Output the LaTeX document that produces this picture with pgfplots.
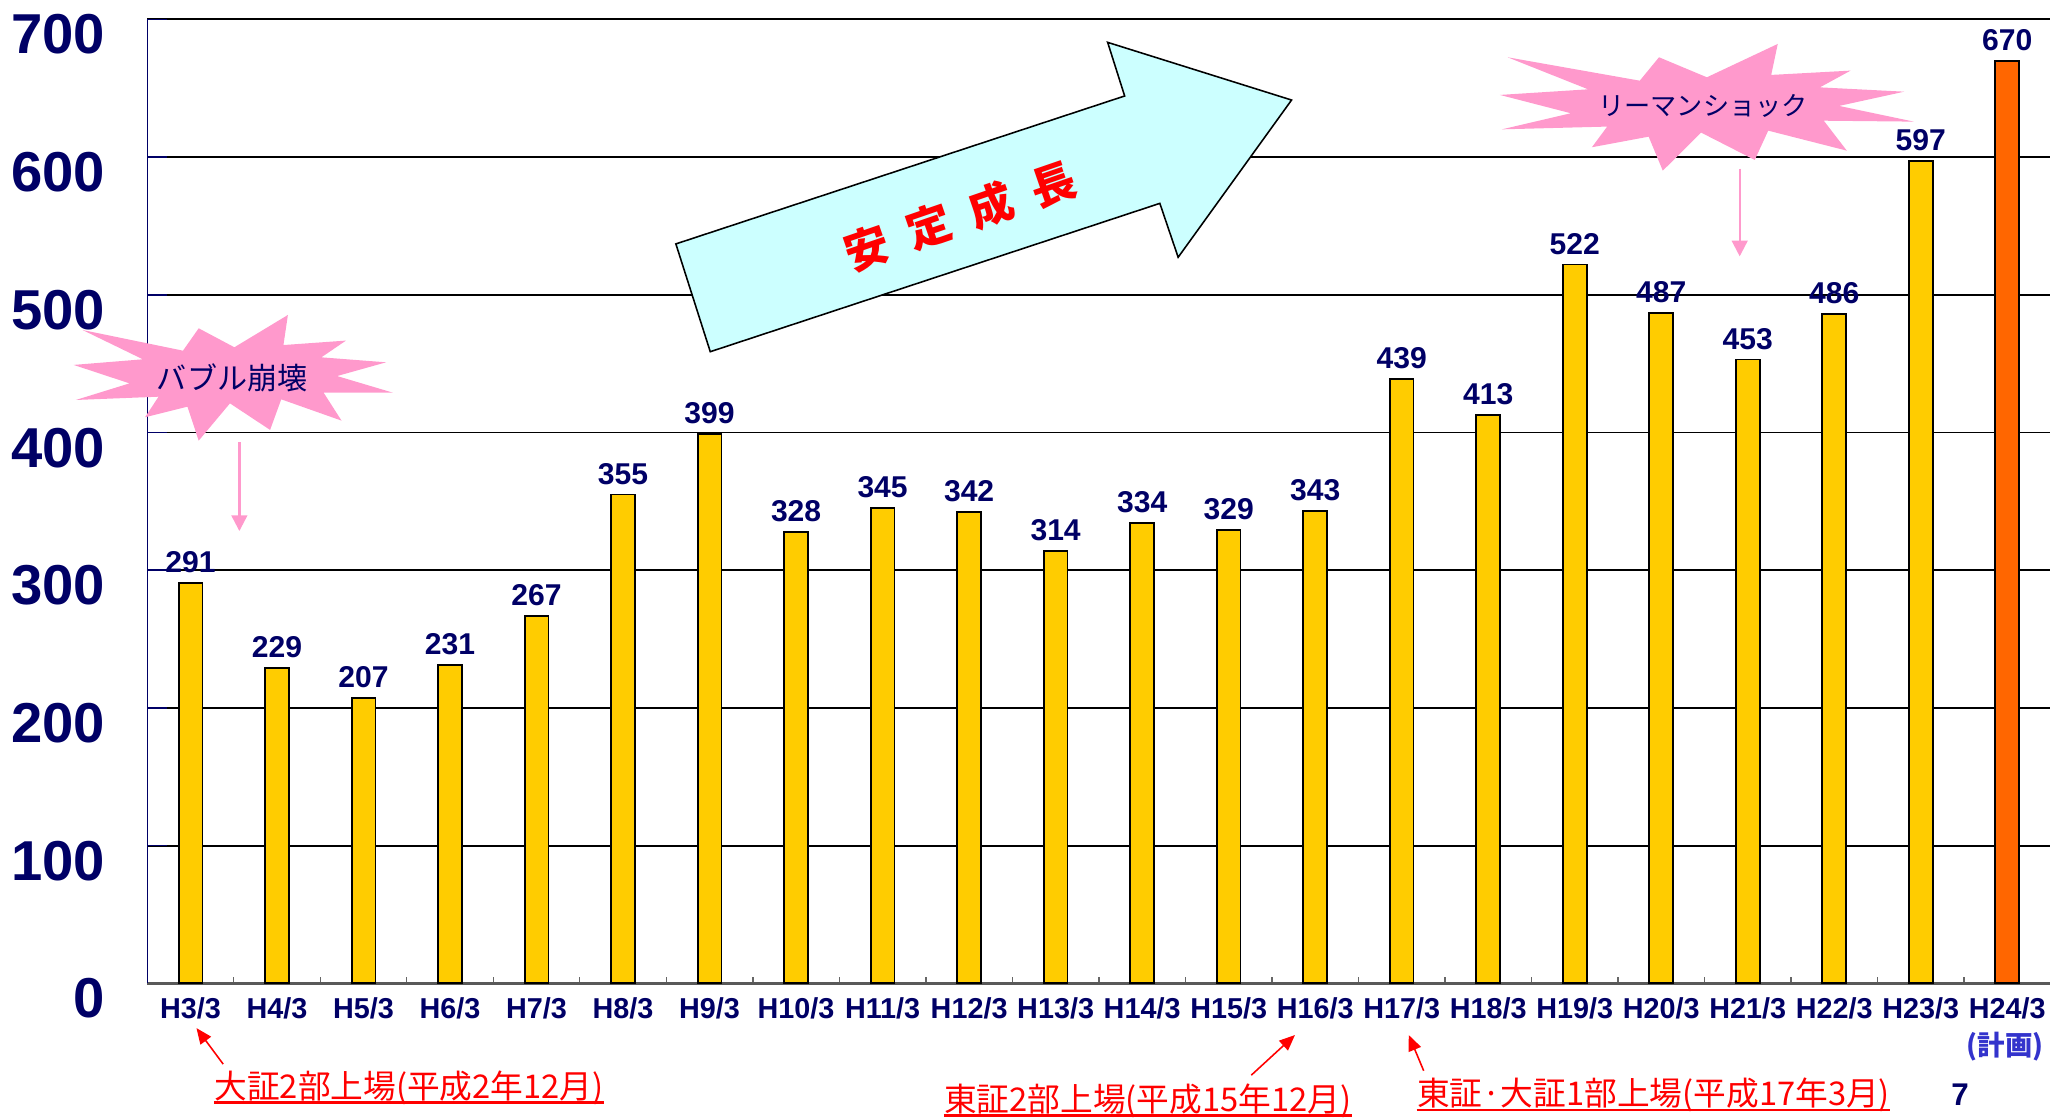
\documentclass[border=0pt]{standalone}
\usepackage{pgfplots}
\pgfplotsset{compat=1.18}
\usepackage{fontspec}
\setmainfont{Liberation Sans}
\newfontfamily\jp{Noto Sans CJK JP}
\usetikzlibrary{arrows.meta}
\definecolor{navy}{RGB}{0,0,102}
\definecolor{baryel}{RGB}{255,204,0}
\definecolor{barorg}{RGB}{255,102,0}
\definecolor{burst}{RGB}{255,153,204}
\definecolor{arrowfill}{RGB}{204,255,255}
\definecolor{plan}{RGB}{51,51,204}
\begin{document}
\begin{tikzpicture}
\useasboundingbox (0,0) rectangle (784pt,427pt);
\begin{axis}[
  at={(56.3pt,51.1pt)}, anchor=south west,
  scale only axis, width=727.5pt, height=368.5pt,
  xmin=-0.5, xmax=21.5, ymin=0, ymax=700,
  ybar, bar width=0.275, bar shift=0pt,
  axis x line*=bottom, axis y line*=left,
  x axis line style={-, draw=black!65, line width=1pt},
  y axis line style={-, draw=navy, line width=0.5pt},
  /pgf/number format/assume math mode=true,
  ytick={0,100,...,700},
  ytick align=inside, xtick align=inside,
  major tick length=7.5pt,
  major y tick style={draw=navy, line width=0.6pt},
  major x tick style={draw=none},
  minor xtick={0.5,1.5,...,20.5},
  minor tick length=2.5pt,
  minor x tick style={draw=black!60, line width=0.5pt},
  ymajorgrids, grid style={black, line width=0.75pt},
  xtick={0,1,...,21},
  xticklabels={H3/3,H4/3,H5/3,H6/3,H7/3,H8/3,H9/3,H10/3,H11/3,H12/3,H13/3,H14/3,H15/3,H16/3,H17/3,H18/3,H19/3,H20/3,H21/3,H22/3,H23/3,H24/3},
  xticklabel style={font=\bfseries\fontsize{11}{12}\selectfont, text=navy, anchor=base, inner sep=0pt, yshift=-13.3pt},
  yticklabel style={font=\bfseries\fontsize{21.5}{22}\selectfont, text=navy, anchor=base east, inner sep=0pt, xshift=-16pt, yshift=-13.2pt},
  nodes near coords,
  nodes near coords style={font=\bfseries\fontsize{11.5}{12}\selectfont, text=navy, anchor=south, inner sep=0pt, yshift=3.5pt},
]
\addplot[ybar, bar shift=0pt, fill=baryel, draw=black, line width=0.7pt] coordinates {
(0,291)(1,229)(2,207)(3,231)(4,267)(5,355)(6,399)(7,328)(8,345)(9,342)(10,314)
(11,334)(12,329)(13,343)(14,439)(15,413)(16,522)(17,487)(18,453)(19,486)(20,597)};
\addplot[ybar, bar shift=0pt, fill=barorg, draw=black, line width=0.7pt] coordinates {(21,670)};
\end{axis}
\begin{scope}[x=0.5pt,y=-0.5pt,yshift=427pt]
% big arrow
\draw[fill=arrowfill, line width=0.6pt, line join=miter] (516.7,186.5) -- (859.8,73.4) -- (846.8,32.4) -- (987.4,76.5) -- (900.7,196.7) -- (886.7,155.5) -- (543.0,268.9) -- cycle;
\node[rotate=19, text=red, font=\jp\bfseries\fontsize{17}{17}\selectfont] at (734,165) {安\hspace{8pt}定\hspace{8pt}成\hspace{8pt}長};
% burst 1
\fill[burst] (56.3,279) -- (109.2,274.7) -- (63.1,252.3) -- (139.9,268.1) -- (151.9,251) -- (179.2,265.5) -- (220.1,240.8) -- (216.7,263.8) -- (264.5,260.4) -- (245.7,273.2) -- (295.2,277) -- (257.7,287.5) -- (300.3,300.2) -- (247.4,300.2) -- (261.1,321.6) -- (215,305.3) -- (206.5,328.7) -- (175.8,308.4) -- (151.9,336.9) -- (143.3,310.9) -- (110.9,319) -- (121.2,303.3) -- (58,305.8) -- (99,293.1) -- cycle;
\node[text=navy, font=\jp\fontsize{11.5}{12}\selectfont] at (177.5,289) {バブル崩壊};
\draw[burst, line width=0.9pt, -{Triangle[length=6pt,width=6pt]}] (183,338) -- (183,406);
% burst 2
\fill[burst] (1146.7,72.6) -- (1214.1,68.3) -- (1152.5,43.8) -- (1253.6,61.7) -- (1268.3,43.8) -- (1304.9,59.1) -- (1359.1,33.6) -- (1354.1,57.3) -- (1414.8,54) -- (1391.3,66.8) -- (1455.8,70.1) -- (1406,81) -- (1463.1,93) -- (1394.3,92.3) -- (1411.9,115.2) -- (1351.8,99.9) -- (1341.5,122.3) -- (1300.5,101.4) -- (1271.2,130.5) -- (1260.4,104.5) -- (1217,112.6) -- (1228.7,96.8) -- (1148.2,98.9) -- (1200.9,86.6) -- cycle;
\node[text=navy, font=\jp\fontsize{10}{11}\selectfont] at (1302,81) {リーマンショック};
\draw[burst, line width=0.9pt, -{Triangle[length=6pt,width=6pt]}] (1330,129) -- (1330,196);
% red annotations
\node[anchor=base west, inner sep=0pt, text=red, font=\jp\fontsize{12.5}{13}\selectfont] (a1) at (163.6,839.5) {大証2部上場(平成2年12月)};
\draw[red, line width=1pt] ([yshift=-1.8pt]a1.base west) -- ([yshift=-1.8pt]a1.base east);
\node[anchor=base west, inner sep=0pt, text=red, font=\jp\fontsize{12.5}{13}\selectfont] (a2) at (721.5,849.5) {東証2部上場(平成15年12月)};
\draw[red, line width=1pt] ([yshift=-1.6pt]a2.base west) -- ([yshift=-1.6pt]a2.base east);
\node[anchor=base west, inner sep=0pt, text=red, font=\jp\fontsize{12.5}{13}\selectfont] (a3) at (1083,845) {東証·大証1部上場(平成17年3月)};
\draw[red, line width=1pt] ([yshift=-1.8pt]a3.base west) -- ([yshift=-1.8pt]a3.base east);
\draw[red, line width=0.6pt, -{Triangle[length=6pt,width=5pt]}] (170.6,813.5) -- (150.2,786);
\draw[red, line width=0.6pt, -{Triangle[length=6pt,width=5pt]}] (956.6,822) -- (990,791.3);
\draw[red, line width=0.6pt, -{Triangle[length=6pt,width=5pt]}] (1088.4,818.6) -- (1077,791.3);
% others
\node[text=plan, font=\jp\bfseries\fontsize{10.5}{11}\selectfont] at (1533,800) {(計画)};
\node[text=navy, font=\bfseries\fontsize{12}{13}\selectfont] at (1498.5,837) {7};
\end{scope}
\end{tikzpicture}
\end{document}
